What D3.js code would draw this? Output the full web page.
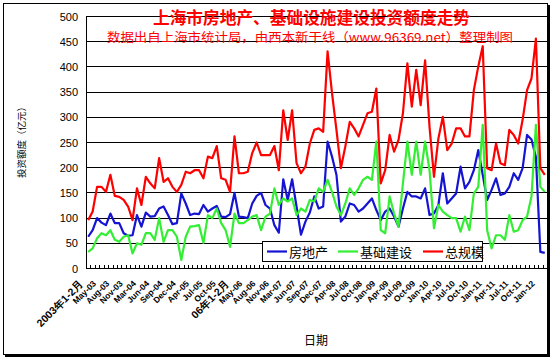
<!DOCTYPE html>
<html>
<head>
<meta charset="utf-8">
<script src="https://cdn.jsdelivr.net/npm/d3@7"></script>
<style>
  body { margin: 0; background: #fff; }
  #chart { width: 553px; height: 362px; }
</style>
</head>
<body>
<div id="chart"></div>
<script>
const categories = [
  '2003年1-2月', 'Mar-03', 'Apr-03', 'May-03', 'Jun-03', 'Jul-03', 'Aug-03', 'Sep-03', 'Oct-03', 'Nov-03', 'Dec-03',
  '04年1-2月', 'Mar-04', 'Apr-04', 'May-04', 'Jun-04', 'Jul-04', 'Aug-04', 'Sep-04', 'Oct-04', 'Nov-04', 'Dec-04',
  '05年1-2月', 'Mar-05', 'Apr-05', 'May-05', 'Jun-05', 'Jul-05', 'Aug-05', 'Sep-05', 'Oct-05', 'Nov-05', 'Dec-05',
  '06年1-2月', 'Mar-06', 'Apr-06', 'May-06', 'Jun-06', 'Jul-06', 'Aug-06', 'Sep-06', 'Oct-06', 'Nov-06', 'Dec-06',
  '07年1-2月', 'Mar-07', 'Apr-07', 'May-07', 'Jun-07', 'Jul-07', 'Aug-07', 'Sep-07', 'Oct-07', 'Nov-07', 'Dec-07',
  '08年1-2月', 'Mar-08', 'Apr-08', 'May-08', 'Jun-08', 'Jul-08', 'Aug-08', 'Sep-08', 'Oct-08', 'Nov-08', 'Dec-08',
  'Jan-09', 'Feb-09', 'Mar-09', 'Apr-09', 'May-09', 'Jun-09', 'Jul-09', 'Aug-09', 'Sep-09', 'Oct-09', 'Nov-09', 'Dec-09',
  'Jan-10', 'Feb-10', 'Mar-10', 'Apr-10', 'May-10', 'Jun-10', 'Jul-10', 'Aug-10', 'Sep-10', 'Oct-10', 'Nov-10', 'Dec-10',
  'Jan-11', 'Feb-11', 'Mar-11', 'Apr-11', 'May-11', 'Jun-11', 'Jul-11', 'Aug-11', 'Sep-11', 'Oct-11', 'Nov-11', 'Dec-11',
  'Jan-12', 'Feb-12',
];

// 房地产
const realEstate = [
  62, 75, 99, 90, 85, 108, 89, 89, 69, 64,
  65, 105, 82, 110, 102, 103, 118, 122, 105, 87,
  89, 148, 128, 105, 108, 107, 125, 112, 118, 123,
  102, 101, 107, 149, 102, 101, 99, 128, 143, 149,
  125, 118, 85, 70, 176, 135, 176, 122, 66, 92,
  110, 142, 118, 122, 251, 221, 185, 92, 102, 128,
  125, 112, 118, 128, 138, 115, 95, 112, 118, 102,
  82, 118, 151, 142, 142, 138, 158, 105, 108, 125,
  188, 128, 138, 148, 201, 158, 171, 194, 234, 185,
  135, 155, 178, 145, 148, 161, 188, 175, 198, 264,
  255, 220, 32, 30,
];

// 基础建设
const infrastructure = [
  32, 39, 59, 69, 65, 75, 56, 52, 62, 65,
  29, 49, 46, 69, 69, 56, 99, 52, 75, 75,
  62, 16, 62, 82, 83, 85, 50, 105, 99, 118,
  89, 75, 42, 108, 89, 89, 95, 102, 105, 75,
  102, 108, 158, 125, 138, 132, 138, 105, 118, 112,
  135, 132, 158, 151, 175, 151, 122, 105, 128, 158,
  145, 158, 175, 181, 175, 251, 75, 69, 142, 108,
  82, 168, 251, 185, 251, 185, 251, 194, 79, 125,
  112, 105, 99, 99, 72, 102, 75, 148, 161, 284,
  75, 39, 65, 65, 56, 105, 72, 75, 95, 102,
  142, 284, 161, 151,
];

// 总规模
const total = [
  95, 112, 161, 161, 151, 185, 143, 141, 135, 122,
  95, 158, 125, 181, 168, 158, 218, 171, 178, 161,
  151, 165, 191, 188, 194, 194, 178, 221, 218, 242,
  178, 175, 151, 261, 188, 188, 191, 228, 249, 224,
  224, 224, 242, 194, 313, 254, 313, 208, 188, 201,
  247, 274, 277, 270, 430, 347, 274, 198, 241, 290,
  277, 261, 284, 307, 310, 356, 168, 194, 264, 231,
  254, 307, 406, 320, 393, 323, 412, 280, 181, 257,
  300, 234, 247, 277, 277, 261, 261, 353, 400, 440,
  198, 194, 247, 208, 204, 274, 264, 247, 294, 353,
  376, 455, 198, 185,
];

const seriesNames = ['房地产', '基础建设', '总规模'];
const seriesColors = ['#1414d2', '#33ee33', '#ff0000'];
const yTicks = [0, 50, 100, 150, 200, 250, 300, 350, 400, 450, 500];
const labelStep = 3;

const title = '上海市房地产、基础设施建设投资额度走势';
const subtitle = '数据出自上海市统计局，由西本新干线（www.96369.net）整理制图';
const yTitle = '投资额度（亿元）';
const xTitle = '日期';

class TrendChart {
  constructor(props) {
    const defaultProps = {
      containerDivId: 'chart',
      width: 553,
      height: 362,
      plot: { left: 86, right: 547, top: 16, bottom: 268 },
    };
    this.props = Object.assign({}, defaultProps, props);
  }

  renderFrame() {
    const { containerDivId, width, height } = this.props;

    this.svg = d3.select(`#${containerDivId}`)
      .append('svg')
      .attr('width', width)
      .attr('height', height)
      .attr('viewBox', `0 0 ${width} ${height}`);

    // chart area border with a small shadow
    this.svg.append('rect')
      .attr('x', 5).attr('y', 5)
      .attr('width', 545).attr('height', 352)
      .attr('fill', '#000');
    this.svg.append('rect')
      .attr('x', 3.5).attr('y', 3.5)
      .attr('width', 544).attr('height', 351)
      .attr('fill', '#fff')
      .attr('stroke', '#000');
  }

  renderAxes() {
    const { plot } = this.props;

    this.x = d3.scaleBand()
      .domain(d3.range(categories.length))
      .range([plot.left, plot.right]);
    this.y = d3.scaleLinear()
      .domain([0, 500])
      .range([plot.bottom, plot.top]);

    const { x, y } = this;
    const bw = x.bandwidth();

    // grid lines
    this.svg.append('g')
      .selectAll('line')
      .data(yTicks.filter((d) => d > 0))
      .join('line')
      .attr('x1', plot.left)
      .attr('x2', plot.right)
      .attr('y1', (d) => Math.round(y(d)) + 0.5)
      .attr('y2', (d) => Math.round(y(d)) + 0.5)
      .attr('stroke', '#000');

    // y axis labels
    const yAxis = this.svg.append('g')
      .attr('transform', `translate(${plot.left},0.5)`)
      .call(d3.axisLeft(y).tickValues(yTicks).tickSize(0).tickPadding(8));
    yAxis.select('.domain').remove();
    yAxis.selectAll('text')
      .attr('font-family', 'Liberation Sans, Arial, sans-serif')
      .attr('font-size', 11)
      .attr('fill', '#000');

    // inward category tick marks
    this.svg.append('g')
      .selectAll('line')
      .data(d3.range(categories.length + 1))
      .join('line')
      .attr('x1', (i) => Math.round(plot.left + i * bw) + 0.5)
      .attr('x2', (i) => Math.round(plot.left + i * bw) + 0.5)
      .attr('y1', plot.bottom)
      .attr('y2', plot.bottom - 3)
      .attr('stroke', '#000');

    // x axis labels, every third category, slanted
    const xAxis = this.svg.append('g')
      .attr('transform', `translate(0,${plot.bottom})`)
      .call(d3.axisBottom(x)
        .tickValues(d3.range(0, categories.length, labelStep))
        .tickFormat((i) => categories[i])
        .tickSize(0));
    xAxis.select('.domain').remove();
    xAxis.selectAll('text')
      .attr('font-family', 'Liberation Sans, Arial, sans-serif')
      .attr('font-weight', 'bold')
      .attr('font-size', (i) => (/年/.test(categories[i]) ? 10.5 : 8.5))
      .attr('fill', '#000')
      .attr('x', 0)
      .attr('y', 0)
      .attr('dy', '0.35em')
      .attr('text-anchor', 'end')
      .attr('transform', 'translate(-7,14) rotate(-45)');

    // plot area border
    this.svg.append('rect')
      .attr('x', plot.left + 0.5)
      .attr('y', Math.round(plot.top) + 0.5)
      .attr('width', plot.right - plot.left)
      .attr('height', plot.bottom - plot.top)
      .attr('fill', 'none')
      .attr('stroke', '#000');
  }

  renderLines() {
    const { x, y } = this;
    const bw = x.bandwidth();
    const line = d3.line()
      .x((d, i) => x(i) + bw / 2)
      .y((d) => y(d));

    [realEstate, infrastructure, total].forEach((values, k) => {
      this.svg.append('path')
        .datum(values)
        .attr('d', line)
        .attr('fill', 'none')
        .attr('stroke', seriesColors[k])
        .attr('stroke-width', 2.2)
        .attr('stroke-linejoin', 'round');
    });
  }

  renderLegend() {
    const legend = this.svg.append('g');
    legend.append('rect')
      .attr('x', 262.5).attr('y', 241.5)
      .attr('width', 220).attr('height', 20)
      .attr('fill', '#fff')
      .attr('stroke', '#000');

    const itemX = [267, 338, 423];
    seriesNames.forEach((name, k) => {
      legend.append('line')
        .attr('x1', itemX[k]).attr('x2', itemX[k] + 20)
        .attr('y1', 251.5).attr('y2', 251.5)
        .attr('stroke', seriesColors[k])
        .attr('stroke-width', 2.2);
      legend.append('text')
        .attr('x', itemX[k] + 22)
        .attr('y', 256.5)
        .attr('font-family', 'Noto Sans CJK SC, sans-serif')
        .attr('font-size', 13)
        .attr('fill', '#000')
        .text(name);
    });
  }

  renderTitles() {
    this.svg.append('text')
      .attr('x', 153).attr('y', 24)
      .attr('textLength', 317)
      .attr('lengthAdjust', 'spacingAndGlyphs')
      .attr('font-family', 'Noto Sans CJK SC, sans-serif')
      .attr('font-weight', 'bold')
      .attr('font-size', 17)
      .attr('fill', '#ff0000')
      .text(title);

    this.svg.append('text')
      .attr('x', 107).attr('y', 42)
      .attr('textLength', 406)
      .attr('lengthAdjust', 'spacingAndGlyphs')
      .attr('font-family', 'Noto Sans CJK SC, sans-serif')
      .attr('font-size', 12.5)
      .attr('fill', '#ff0000')
      .text(subtitle);

    this.svg.append('text')
      .attr('transform', 'translate(25,140) rotate(-90)')
      .attr('text-anchor', 'middle')
      .attr('font-family', 'Noto Sans CJK SC, sans-serif')
      .attr('font-size', 9.5)
      .attr('fill', '#000')
      .text(yTitle);

    this.svg.append('text')
      .attr('x', 316).attr('y', 345)
      .attr('text-anchor', 'middle')
      .attr('font-family', 'Noto Sans CJK SC, sans-serif')
      .attr('font-size', 12)
      .attr('fill', '#000')
      .text(xTitle);
  }

  render() {
    this.renderFrame();
    this.renderAxes();
    this.renderLines();
    this.renderLegend();
    this.renderTitles();
  }
}

new TrendChart().render();
</script>
</body>
</html>
